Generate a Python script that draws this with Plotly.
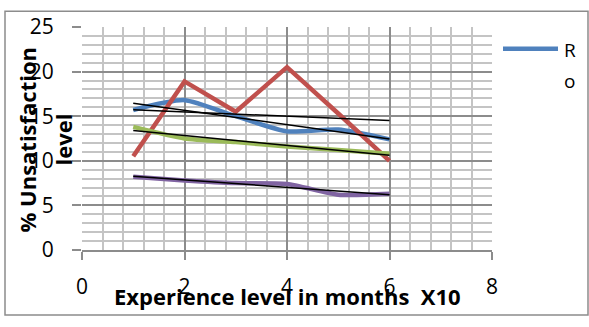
import numpy as np
import plotly.graph_objects as go

# Experience level (months x10) and % unsatisfaction per group
experience = [1, 2, 3, 4, 5, 6]
series_blue = [15.7, 16.8, 15.0, 13.3, 13.5, 12.4]
series_red = [10.5, 18.9, 15.5, 20.5, 15.3, 10.0]
series_green = [13.8, 12.5, 12.1, 11.6, 11.2, 10.8]
series_purple = [8.2, 7.8, 7.5, 7.4, 6.2, 6.3]

x_ticks = [0, 2, 4, 6, 8]
y_ticks = [0, 5, 10, 15, 20, 25]

BLUE = "#4F81BD"
RED = "#C0504D"
GREEN = "#9BBB59"
PURPLE = "#8064A2"

W, H = 589, 327
L, R, T, B = 82, 97, 24, 77
PW, PH = W - L - R, H - T - B


def px_x(p):
    return (p - L) / PW


def px_y(p):
    return (H - B - p) / PH


fig = go.Figure()

groups = [
    ("Ro", series_blue, BLUE, "spline"),
    ("red", series_red, RED, "linear"),
    ("green", series_green, GREEN, "spline"),
    ("purple", series_purple, PURPLE, "spline"),
]

for name, ys, color, shape in groups:
    fig.add_trace(go.Scatter(
        x=experience, y=ys, mode="lines", name=name,
        line=dict(color=color, width=4.5, shape=shape, smoothing=0.6),
        showlegend=False,
    ))

# Linear trendlines for each group
xs = np.array(experience, dtype=float)
for name, ys, color, shape in groups:
    slope, intercept = np.polyfit(xs, np.array(ys, dtype=float), 1)
    ends = np.array([xs.min(), xs.max()])
    fig.add_trace(go.Scatter(
        x=ends, y=slope * ends + intercept, mode="lines",
        line=dict(color="black", width=1.5), showlegend=False,
    ))

tick_font = dict(family="Open Sans", size=21, color="#000")
title_font = dict(family="Open Sans", size=22, color="#000")

fig.update_layout(
    width=W, height=H,
    margin=dict(l=L, r=R, t=T, b=B),
    paper_bgcolor="white", plot_bgcolor="white",
    xaxis=dict(
        range=[0, 8], tickvals=x_ticks, ticktext=[str(v) for v in x_ticks],
        showgrid=True, gridcolor="#8c8c8c", gridwidth=1.5,
        ticks="outside", ticklen=8, tickcolor="#8c8c8c", tickwidth=1.5,
        tickfont=tick_font, ticklabelstandoff=9,
        minor=dict(dtick=0.4, tick0=0, showgrid=True, gridcolor="#c4c4c4", gridwidth=1.5),
        showline=True, linecolor="#8c8c8c", linewidth=1.5,
        zeroline=False, fixedrange=True,
    ),
    yaxis=dict(
        range=[0, 25], tickvals=y_ticks, ticktext=[str(v) for v in y_ticks],
        showgrid=True, gridcolor="#8c8c8c", gridwidth=1.5,
        ticks="outside", ticklen=9, tickcolor="#8c8c8c", tickwidth=1.5,
        tickfont=tick_font, ticklabelstandoff=14,
        minor=dict(dtick=1, tick0=0, showgrid=True, gridcolor="#c4c4c4", gridwidth=1.5),
        showline=False, zeroline=False, fixedrange=True,
    ),
    shapes=[
        # outer chart border
        dict(type="rect", xref="paper", yref="paper",
             x0=px_x(5), x1=px_x(588), y0=px_y(316), y1=px_y(8),
             line=dict(color="#8c8c8c", width=1.5), fillcolor="rgba(0,0,0,0)",
             layer="below"),
        # legend sample
        dict(type="line", xref="paper", yref="paper",
             x0=px_x(503), x1=px_x(558), y0=px_y(46), y1=px_y(46),
             line=dict(color=BLUE, width=4.5)),
    ],
    annotations=[
        dict(text="R", xref="paper", yref="paper", x=px_x(562), y=px_y(47),
             xanchor="left", yanchor="middle", showarrow=False,
             font=dict(family="Open Sans", size=19, color="#000")),
        dict(text="o", xref="paper", yref="paper", x=px_x(562), y=px_y(79),
             xanchor="left", yanchor="middle", showarrow=False,
             font=dict(family="Open Sans", size=19, color="#000")),
        dict(text="<b>Experience level in months  X10</b>", xref="paper", yref="paper",
             x=px_x(287), y=px_y(297), xanchor="center", yanchor="middle",
             showarrow=False, font=title_font),
        dict(text="<b>% Unsatisfaction</b>", xref="paper", yref="paper",
             x=px_x(27), y=px_y(138), xanchor="center", yanchor="middle",
             textangle=-90, showarrow=False, font=title_font),
        dict(text="<b>level</b>", xref="paper", yref="paper",
             x=px_x(63), y=px_y(138), xanchor="center", yanchor="middle",
             textangle=-90, showarrow=False, font=title_font),
    ],
)

fig.write_html("out.html")
